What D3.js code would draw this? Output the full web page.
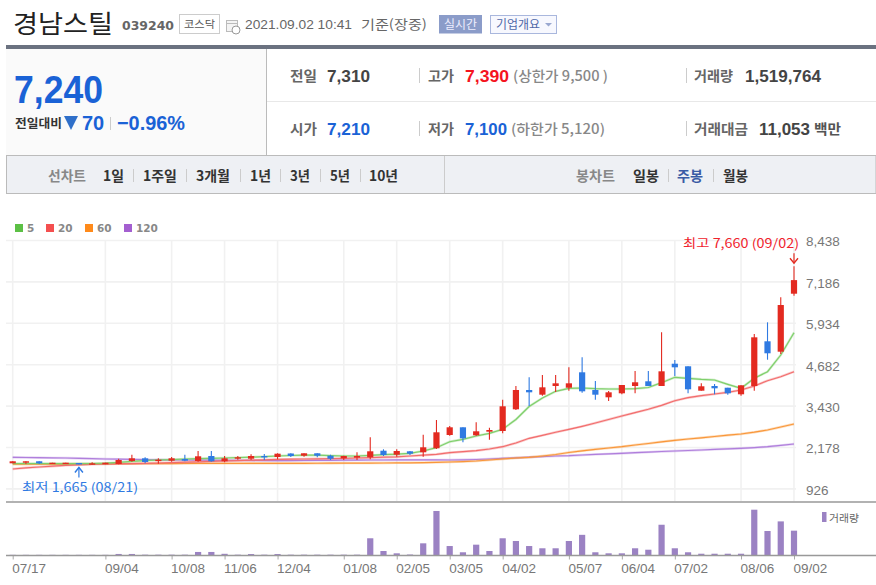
<!DOCTYPE html>
<html><head><meta charset="utf-8">
<script src="https://cdn.jsdelivr.net/npm/d3@7/dist/d3.min.js"></script>
<style>
html,body{margin:0;padding:0;background:#fff;overflow:hidden}
svg{display:block}
text{font-family:"Noto Sans CJK KR","Liberation Sans",sans-serif}
</style></head><body>
<svg id="c" width="876" height="585"></svg>
<script>
const opens=[1700,1718,1761,1688,1688,1709,1670,1670,1679,1770,1851,1779,1779,1830,1770,1921,1761,1839,1839,1921,1891,1997,1930,2003,1930,1851,1870,1882,2081,1960,2063,2033,2154,2556,2789,2547,2656,2677,3333,3917,3775,4038,3986,4452,3917,3696,3817,4038,4180,4038,4712,4634,3896,4038,3986,3787,4038,5390,5075,6829];
const closes=[1761,1761,1700,1718,1718,1670,1700,1718,1800,1851,1740,1809,1851,1779,1912,1761,1851,1882,1921,1882,1991,1921,2003,1930,1839,1921,1921,2063,1951,2072,1991,2184,2638,2789,2456,2668,2707,3424,3917,3847,3998,4119,4119,3877,3775,3847,4068,4150,4038,4482,4603,3938,4029,3968,3817,4059,5510,5027,6487,7240];
const highs=[1761,1761,1761,1718,1718,1709,1730,1718,1839,1960,1882,1851,1891,1960,2072,2072,1921,1921,1972,1981,2003,2003,2003,2003,1960,1930,2033,2486,2124,2124,2072,2565,3010,2828,2789,2940,2777,3623,4038,4301,4370,4370,4603,4906,4189,3887,4068,4491,4491,5662,4824,4634,4119,4098,3986,4059,5610,5964,6720,7660];
const lows=[1700,1679,1679,1688,1688,1665,1665,1670,1670,1749,1700,1688,1749,1761,1749,1749,1730,1809,1800,1800,1821,1891,1900,1882,1800,1800,1800,1821,1921,1900,1951,1900,2133,2535,2335,2526,2414,2607,3312,3433,3744,3856,3896,3835,3623,3584,3787,3817,4038,4038,4340,3817,3896,3787,3775,3744,3896,4833,5005,6768];
const volumes=[10,10,10,10,10,10,10,10,65,65,20,20,20,20,190,190,75,20,60,20,60,20,20,20,20,20,20,1045,250,105,30,730,2750,560,170,645,250,1045,875,560,420,420,875,1260,170,105,105,420,330,1890,420,170,80,80,80,80,2830,1500,2100,1520];
const ma5=[1694,1694,1694,1694,1691,1694,1694,1703,1727,1758,1782,1800,1812,1830,1842,1851,1860,1873,1885,1903,1921,1936,1945,1945,1933,1921,1921,1939,1963,1975,2000,2072,2172,2353,2426,2526,2607,2728,3025,3418,3675,3877,3968,3977,3956,3947,3947,3956,3992,4138,4301,4271,4240,4219,4089,3968,4271,4470,4975,5650];
const ma20=[1528,1564,1588,1613,1637,1655,1667,1679,1685,1691,1697,1709,1721,1733,1746,1758,1770,1782,1794,1806,1818,1824,1830,1836,1842,1848,1860,1873,1885,1897,1921,1945,1972,2021,2051,2081,2133,2202,2314,2456,2547,2638,2728,2819,2919,3025,3131,3231,3334,3454,3593,3684,3744,3796,3847,3917,4038,4198,4319,4470];
const ma60=[1672,1673,1675,1676,1678,1680,1682,1684,1686,1688,1689,1691,1693,1695,1697,1698,1699,1699,1700,1700,1700,1700,1700,1702,1703,1705,1706,1708,1710,1712,1715,1718,1727,1740,1752,1770,1800,1830,1860,1882,1921,1966,2027,2078,2124,2163,2202,2254,2299,2350,2396,2435,2471,2511,2550,2586,2641,2707,2798,2889];
const ma120=[1882,1876,1870,1864,1860,1851,1842,1830,1824,1818,1812,1806,1800,1800,1797,1794,1791,1788,1785,1782,1779,1782,1785,1788,1791,1794,1797,1800,1800,1802,1803,1803,1802,1800,1806,1815,1830,1851,1867,1885,1903,1921,1930,1951,1969,1984,2002,2021,2039,2057,2072,2087,2102,2121,2136,2154,2175,2202,2242,2284];
const yTicks=[8438,7186,5934,4682,3430,2178,926];
const xTickIndex=[0,7,12,16,20,25,29,33,37,42,46,50,55,59];
const xTickLabels=["07/17","09/04","10/08","11/06","12/04","01/08","02/05","03/05","04/02","05/07","06/04","07/02","08/06","09/02"];
const maNames=["5","20","60","120"];
const maLegendColors=["#5cc045","#f44f4f","#ff8a1a","#a45fd0"];
const maLineColors=["#7fcf6b","#f26d6d","#f9973a","#b07fdc"];

const svg=d3.select("#c");
const T=(s,x,y,o={})=>{const t=svg.append("text").attr("x",x).attr("y",y).text(s)
  .attr("font-size",o.size||14).attr("fill",o.fill||"#333").attr("font-weight",o.weight||400).attr("text-anchor",o.anchor||"start");
  if(o.font)t.style("font-family",o.font); if(o.len)t.attr("textLength",o.len).attr("lengthAdjust","spacingAndGlyphs"); return t;};
const R=(x,y,w,h,f,s)=>svg.append("rect").attr("x",x).attr("y",y).attr("width",w).attr("height",h).attr("fill",f||"none").attr("stroke",s||"none");
const L=(x1,y1,x2,y2,c,w)=>svg.append("line").attr("x1",x1).attr("y1",y1).attr("x2",x2).attr("y2",y2).attr("stroke",c).attr("stroke-width",w||1);
const LIB='"Liberation Sans",sans-serif', DJV='"DejaVu Sans",sans-serif';
const BLUE="#1a62d6",RED="#f5141e";

// header
T("경남스틸",13,33,{size:25,fill:"#222",len:100});
T("039240",122,30,{size:12.5,weight:700,fill:"#666",font:DJV,len:52});
R(179.5,14.5,40,19,"#fff","#ccc"); T("코스닥",184,28,{size:10.5,fill:"#555",len:31});
R(226.5,20.5,11,11,"#f4f4f4","#bbb"); L(227,23.5,237,23.5,"#bbb");
svg.append("circle").attr("cx",236).attr("cy",30).attr("r",4).attr("fill","#fff").attr("stroke","#999");
T("2021.09.02 10:41",245,29,{size:13,fill:"#666",font:LIB,len:107});
T("기준(장중)",361,29,{size:13,fill:"#666",len:66});
R(439,15,43,18.5,"#8b9cc9"); T("실시간",444,29,{size:12,fill:"#eef",len:33});
R(490.5,15.5,66,18,"#f7f8fe","#a9b7dd"); T("기업개요",496,29,{size:12,fill:"#5068a8",len:44});
svg.append("path").attr("d","M545 23h7l-3.5 3.5z").attr("fill","#9aa8d0");

// summary
R(6,49,260,106,"#fafafa");
R(6,45,870,4,"#6b7280");
L(266.5,49,266.5,155,"#bbb"); L(267,101.5,876,101.5,"#e8e8e8");
T("7,240",14,103,{size:38,fill:BLUE,weight:700,font:LIB,len:89});
T("전일대비",15,128,{size:12,weight:700,fill:"#333",len:47});
svg.append("path").attr("d","M64 116H78L71 130Z").attr("fill","#2f6fc9");
T("70",82,130,{size:20,fill:BLUE,weight:700,font:LIB});
L(110.5,117,110.5,130,"#ccc");
T("−0.96%",117,130,{size:20,fill:BLUE,weight:700,font:LIB,len:68});
const lab=(s,x,y,len)=>T(s,x,y,{size:14,weight:700,fill:"#666",len});
const val=(s,x,y,f,len)=>T(s,x,y+1,{size:17,weight:700,fill:f,font:LIB,len});
[68,121].forEach(y=>{L(419.5,y,419.5,y+15,"#ccc");L(686.5,y,686.5,y+15,"#ccc");});
lab("전일",290,81,27); val("7,310",327,81,"#444",43);
lab("고가",428,81,26); val("7,390",465,81,RED,44);
T("(상한가 9,500 )",513,81,{size:14,weight:500,fill:"#888",len:95});
lab("거래량",694,81,39); val("1,519,764",745,81,"#444",76);
lab("시가",290,134,27); val("7,210",327,134,BLUE,43);
lab("저가",428,134,26); val("7,100",465,134,BLUE,42);
T("(하한가 5,120)",511,134,{size:14,weight:500,fill:"#888",len:94});
lab("거래대금",694,134,54); val("11,053",759,134,"#444",51);
T("백만",814,134,{size:14,weight:700,fill:"#555",len:27});

// nav bar
R(6.5,155.5,869.5,38,"#eef0f4","#bbb");
L(444.5,156,444.5,193,"#ccc");
T("선차트",48,181,{size:14,weight:700,fill:"#888",len:38});
[["1일",103,21],["1주일",143,34],["3개월",196,34],["1년",250,21],["3년",290,20],["5년",330,20],["10년",369,29]]
 .forEach(d=>T(d[0],d[1],181,{size:14,weight:700,fill:"#333",len:d[2]}));
[133,186,240,280,320,360,668,713].forEach(x=>L(x+.5,169,x+.5,182,"#ccc"));
T("봉차트",576,181,{size:14,weight:700,fill:"#888",len:39});
T("일봉",633,181,{size:14,weight:700,fill:"#333",len:26});
T("주봉",677,181,{size:14,weight:700,fill:"#3a5ba5",len:26});
T("월봉",723,181,{size:14,weight:700,fill:"#333",len:25});

// legend
const legX=[15,46,85,124];
maNames.forEach((n,i)=>{R(legX[i],224,8,8,maLegendColors[i]);
  T(n,legX[i]+12,232,{size:10.5,weight:700,fill:"#888",font:DJV});});

// scales
const x=d3.scaleLinear().domain([0,59]).range([12.7,794]);
const y=d3.scaleLinear().domain([926,8438]).range([488.9,240.5]);
const yv=d3.scaleLinear().domain([0,d3.max(volumes)]).range([555,509.7]);
const idx=d3.range(opens.length);

// grid
svg.append("g").selectAll("line").data(yTicks).join("line")
 .attr("x1",6).attr("x2",796).attr("y1",d=>y(d)).attr("y2",d=>y(d)).attr("stroke","#f1f1f1").attr("stroke-width",1.6);
svg.append("g").selectAll("line").data(xTickIndex).join("line")
 .attr("x1",d=>x(d)).attr("x2",d=>x(d)).attr("y1",241).attr("y2",501).attr("stroke","#f1f1f1").attr("stroke-width",1.6);

// moving averages
const line=d3.line().x((d,i)=>x(i)).y(d=>y(d));
[ma120,ma60,ma20,ma5].forEach((s,k)=>{const c=[maLineColors[3],maLineColors[2],maLineColors[1],maLineColors[0]][k];
  svg.append("path").attr("d",line(s)).attr("fill","none").attr("stroke",c).attr("stroke-width",2.4).attr("opacity",.35);
  svg.append("path").attr("d",line(s)).attr("fill","none").attr("stroke",c).attr("stroke-width",1.2);});

// candles
const col=i=>closes[i]>=opens[i]?"#e32a20":"#2f7ae2";
svg.append("g").selectAll("line").data(idx).join("line")
 .attr("x1",x).attr("x2",x).attr("y1",i=>y(highs[i])).attr("y2",i=>y(lows[i])).attr("stroke",col).attr("stroke-width",1.1);
svg.append("g").selectAll("rect").data(idx).join("rect")
 .attr("x",i=>x(i)-3.1).attr("width",6.2)
 .attr("y",i=>y(Math.max(opens[i],closes[i])))
 .attr("height",i=>Math.max(1.4,Math.abs(y(opens[i])-y(closes[i])))).attr("fill",col);

// volume
svg.append("g").selectAll("rect").data(idx).join("rect")
 .attr("x",i=>x(i)-3.1).attr("width",6.2).attr("y",i=>yv(volumes[i]))
 .attr("height",i=>yv(0)-yv(volumes[i])).attr("fill","#9b82c3");

// axes
const yAxis=d3.axisRight(y).tickValues(yTicks).tickFormat(d3.format(",")).tickSize(0).tickPadding(0);
const ga=svg.append("g").attr("transform","translate(806,1)").call(yAxis);
ga.select(".domain").remove();
ga.selectAll("text").attr("font-size",13.5).attr("fill","#777").style("font-family",LIB);
const xAxis=d3.axisBottom(x).tickValues(xTickIndex).tickFormat(d=>xTickLabels[xTickIndex.indexOf(d)]).tickSize(4).tickPadding(4);
const gx=svg.append("g").attr("transform","translate(0,555.5)").call(xAxis);
gx.select(".domain").remove();
gx.selectAll("line").attr("stroke","#aaa");
gx.selectAll("text").attr("font-size",13.5).attr("fill","#777").attr("text-anchor","start").attr("dx",-1).style("font-family",LIB);
L(6,502,876,502,"#999",1.4);
L(6,555.5,876,555.5,"#999",1.4);

// volume legend
R(822,512,4.5,10,"#9b82c3");
T("거래량",829,522,{size:10.5,fill:"#666",len:30});

// annotations
const hiI=59, loI=5;
T("최고 7,660 (09/02)",683,248,{size:12.5,fill:"#f0222c",len:116});
const hx=x(hiI), hy=y(highs[hiI]);
L(hx,hy-13,hx,hy-3,"#e32a20",1.2);
svg.append("path").attr("d",`M${hx-4} ${hy-8}L${hx} ${hy-3}L${hx+4} ${hy-8}`).attr("fill","none").attr("stroke","#e32a20").attr("stroke-width",1.4);
T("최저 1,665 (08/21)",22,492,{size:12.5,fill:"#2f7ae2",len:116});
const lx=x(loI), ly=y(lows[loI]);
L(lx,ly+3,lx,ly+13,"#2f7ae2",1.2);
svg.append("path").attr("d",`M${lx-4} ${ly+8}L${lx} ${ly+3}L${lx+4} ${ly+8}`).attr("fill","none").attr("stroke","#2f7ae2").attr("stroke-width",1.4);
</script>
</body></html>
